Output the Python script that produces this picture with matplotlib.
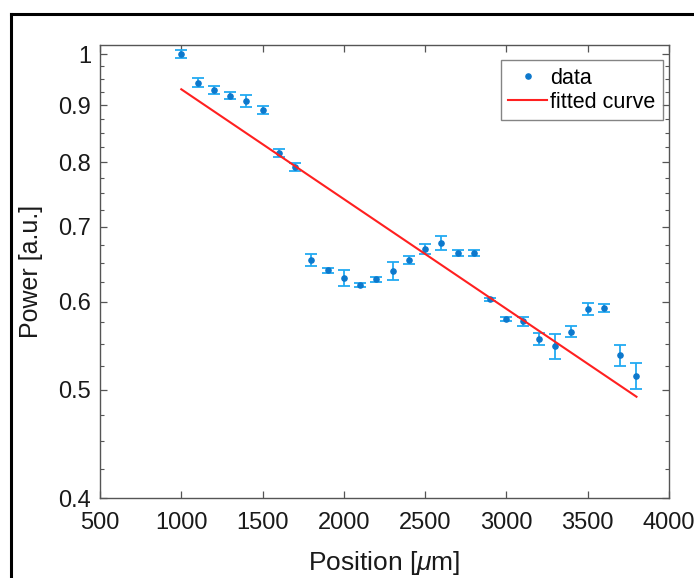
import matplotlib
matplotlib.use("Agg")
import matplotlib.pyplot as plt
from matplotlib.lines import Line2D
from matplotlib.ticker import FixedLocator, NullFormatter, FixedFormatter

plt.rcParams['font.family'] = ['Liberation Sans', 'DejaVu Sans']
plt.rcParams['mathtext.fontset'] = 'custom'
plt.rcParams['mathtext.it'] = 'Liberation Sans:italic'
plt.rcParams['mathtext.rm'] = 'Liberation Sans'

# data
position = [1000, 1100, 1200, 1300, 1400, 1500, 1600, 1700, 1800, 1900,
            2000, 2100, 2200, 2300, 2400, 2500, 2600, 2700, 2800, 2900,
            3000, 3100, 3200, 3300, 3400, 3500, 3600, 3700, 3800]
power = [1.000, 0.943, 0.929, 0.918, 0.908, 0.891, 0.815, 0.792, 0.654, 0.640,
         0.630, 0.621, 0.628, 0.639, 0.654, 0.669, 0.677, 0.663, 0.663, 0.603,
         0.579, 0.576, 0.555, 0.547, 0.564, 0.591, 0.592, 0.537, 0.515]
power_err = [0.009, 0.008, 0.008, 0.007, 0.011, 0.007, 0.007, 0.007, 0.008, 0.003,
             0.010, 0.003, 0.003, 0.012, 0.005, 0.007, 0.010, 0.004, 0.004, 0.002,
             0.002, 0.005, 0.007, 0.014, 0.006, 0.007, 0.005, 0.012, 0.014]
fit_x = [1000, 3800]
fit_y = [0.930, 0.493]

x_ticks = [500, 1000, 1500, 2000, 2500, 3000, 3500, 4000]
y_ticks = [0.4, 0.5, 0.6, 0.7, 0.8, 0.9, 1.0]
y_tick_labels = ['0.4', '0.5', '0.6', '0.7', '0.8', '0.9', '1']
y_minor = [0.425, 0.45, 0.475, 0.525, 0.55, 0.575, 0.625, 0.65, 0.675,
           0.725, 0.75, 0.775, 0.825, 0.85, 0.875, 0.925, 0.95, 0.975]

fig = plt.figure(figsize=(6.94, 5.78), dpi=100)
ax = fig.add_axes([100/694, 1 - 498/578, 569/694, 453/578])

ax.errorbar(position, power, yerr=power_err, fmt='none', ecolor='#22aaf2',
            elinewidth=1.3, capsize=4, capthick=1.3, zorder=2)
ax.plot(position, power, linestyle='none', marker='.', markersize=7.5,
        color='#0d78cc', label='data', zorder=3)
ax.plot(fit_x, fit_y, color='#ff2020', linewidth=1.5, label='fitted curve', zorder=4)

ax.set_yscale('log')
ax.set_xlim(500, 4000)
ax.set_ylim(0.4, 1.019)
ax.xaxis.set_major_locator(FixedLocator(x_ticks))
ax.set_xticklabels([str(v) for v in x_ticks])
ax.yaxis.set_major_locator(FixedLocator(y_ticks))
ax.yaxis.set_major_formatter(FixedFormatter(y_tick_labels))
ax.yaxis.set_minor_locator(FixedLocator(y_minor))
ax.yaxis.set_minor_formatter(NullFormatter())

ax.tick_params(which='both', direction='in', top=True, right=True,
               colors='#555555', labelcolor='#1a1a1a', labelsize=17)
ax.tick_params(which='major', length=5, width=0.9)
ax.tick_params(which='minor', length=3, width=0.8)
ax.tick_params(axis='x', pad=10)
ax.tick_params(axis='y', pad=6.5)
for s in ax.spines.values():
    s.set_color('#555555')
    s.set_linewidth(1.0)

ax.set_xlabel(r'Position [$\mu$m]', fontsize=19, color='#1a1a1a', labelpad=11)
ax.set_ylabel('Power [a.u.]', fontsize=18, color='#1a1a1a', labelpad=11)

leg = ax.legend(loc='upper right', bbox_to_anchor=(663/694, 1 - 60/578),
                bbox_transform=fig.transFigure, fontsize=15.5, frameon=True,
                fancybox=False, borderpad=0.35, handlelength=1.8,
                handletextpad=0.15, labelspacing=0.15, borderaxespad=0)
leg.get_frame().set_edgecolor('#666666')
leg.get_frame().set_linewidth(1.0)

# outer black frame (left and top visible)
fig.add_artist(Line2D([11/694, 11/694], [0, 1 - 14/578], transform=fig.transFigure,
                      color='black', linewidth=2.2))
fig.add_artist(Line2D([11/694, 1], [1 - 14/578, 1 - 14/578], transform=fig.transFigure,
                      color='black', linewidth=2.2))

fig.savefig('out.png', dpi=100)
